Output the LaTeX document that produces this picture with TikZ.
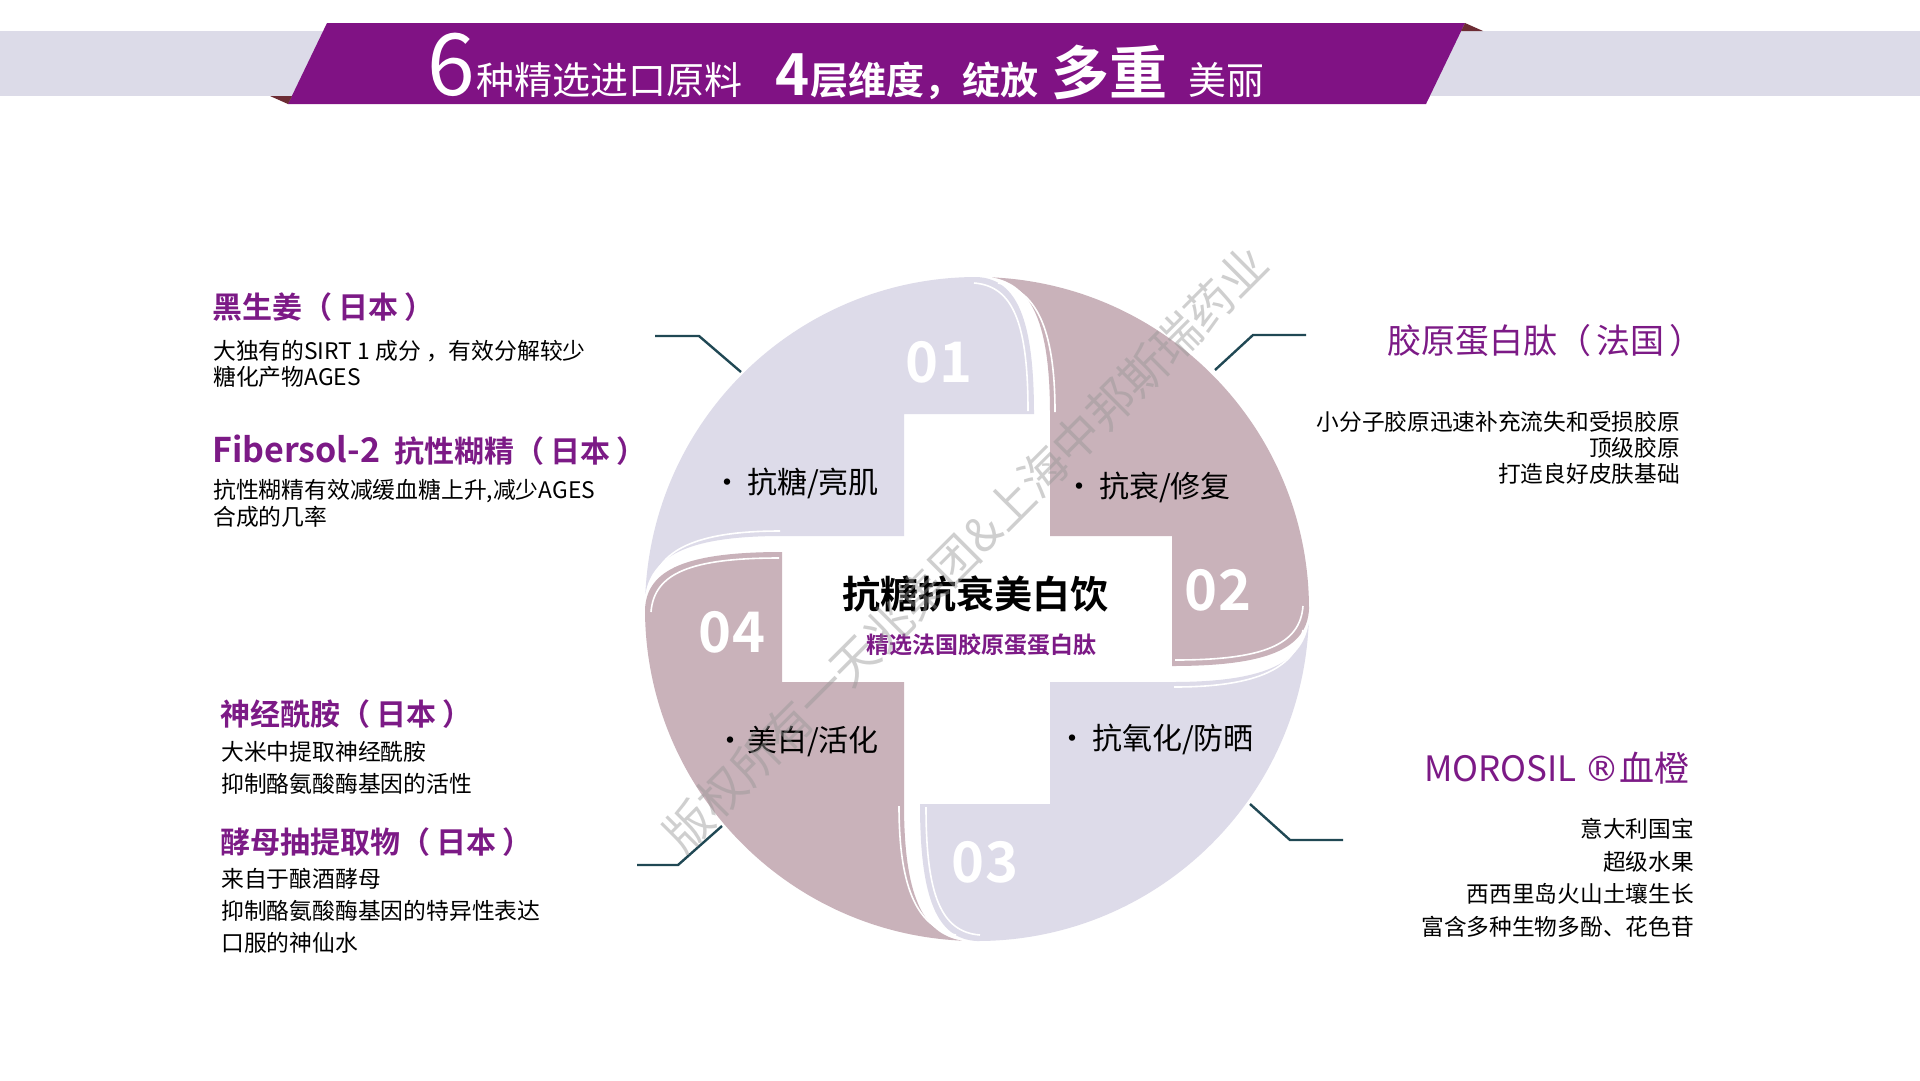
\documentclass[tikz,border=0pt]{standalone}
\usepackage{fontspec}
\setmainfont{Noto Sans CJK SC}[BoldFont={Noto Sans CJK SC Bold}]
\newfontfamily\symfont{DejaVu Sans}
\usetikzlibrary{calc, positioning}

\definecolor{bandgray}{RGB}{220,219,232}
\definecolor{ribbon}{RGB}{128,18,132}
\definecolor{ribbonfold}{RGB}{108,44,52}
\definecolor{lavender}{RGB}{221,219,233}
\definecolor{mauve}{RGB}{201,178,186}
\definecolor{headpurple}{RGB}{124,26,134}
\definecolor{leader}{RGB}{32,72,84}
\definecolor{stampgray}{RGB}{150,150,150}

\newcommand\jp{（\hspace{6pt}日本\hspace{6pt}）}

\tikzset{
  heading/.style={anchor=west, inner sep=0pt, text=headpurple, font=\bfseries\fontsize{30}{30}\selectfont},
  bodytext/.style={anchor=north west, inner sep=0pt, align=left, font=\fontsize{22.8}{#1}\selectfont},
  bodytext/.default=27,
  rightbody/.style={anchor=north east, inner sep=0pt, align=right, font=\fontsize{22.7}{#1}\selectfont},
  rightbody/.default=27,
  titletext/.style={anchor=base west, inner sep=0pt, text=white},
  petaltext/.style={anchor=west, inner sep=0pt, font=\fontsize{30}{30}\selectfont},
  petalnum/.style={inner sep=0pt, text=white, font=\bfseries\fontsize{56}{56}\selectfont},
  leaderline/.style={draw=leader, line width=2.4pt},
  bevel/.style={draw=white, line width=1.6pt},
  stamp/.style={rotate=45, inner sep=0pt, text=stampgray, text opacity=0.45, font=\fontsize{47}{47}\selectfont}
}

\begin{document}
\begin{tikzpicture}[x=1pt,y=-1pt]
\useasboundingbox (0,0) rectangle (1920,1080);
\fill[white] (0,0) rectangle (1920,1080);

\def\petal{(-73,73) -- (-73,195) -- (57,195) .. controls (57,290) and (40,330) .. (90:332)
  arc[start angle=90, end angle=177.4, radius=332] .. controls (-325,55) and (-285,73) .. (-195,73) -- cycle}

\coordinate (tlEnd) at (655,336);
\coordinate (tlBend) at (699,336);
\coordinate (tlRim) at (741,372);
\coordinate (trEnd) at (1306,335);
\coordinate (trBend) at (1253,335);
\coordinate (trRim) at (1215,370);
\coordinate (brEnd) at (1343,840);
\coordinate (brBend) at (1290,840);
\coordinate (brRim) at (1250,804);
\coordinate (blEnd) at (637,865);
\coordinate (blBend) at (678,865);
\coordinate (blRim) at (722,826);

\fill[bandgray] (0,31) rectangle (1920,96);
\fill[ribbon] (327,23) -- (1465,23) -- (1426,104) -- (288,104) -- cycle;
\fill[ribbonfold] (1465,23) -- (1483,31) -- (1461,31) -- cycle;
\fill[ribbonfold] (288,104) -- (270,96) -- (292,96) -- cycle;

\node[titletext, font=\fontsize{86}{86}\selectfont] (title6) at (427,95) {6};
\node[titletext, font=\fontsize{38}{38}\selectfont] (titleA) at (476,94) {种精选进口原料};
\node[titletext, font=\bfseries\fontsize{58}{58}\selectfont] (title4) at (775,95) {4};
\node[titletext, font=\bfseries\fontsize{38}{38}\selectfont] (titleB) at (810,94) {层维度，绽放};
\node[titletext, font=\bfseries\fontsize{58}{58}\selectfont] (titleC) at (1051,94) {多重};
\node[titletext, font=\fontsize{38}{38}\selectfont] (titleD) at (1188,94) {美丽};

\foreach \rot/\tone in {0/lavender,-90/mauve,-180/lavender,-270/mauve}{
  \begin{scope}[shift={(977,609)},x=1pt,y=1pt,rotate=\rot]
    \fill[\tone] \petal;
    \draw[bevel] (51,198) .. controls (51,286) and (36,323) .. (-3,326);
    \draw[bevel] (-326,21) .. controls (-319,58) and (-283,78) .. (-197,78);
  \end{scope}
}

\draw[leaderline] (tlEnd) -- (tlBend) -- (tlRim);
\draw[leaderline] (trEnd) -- (trBend) -- (trRim);
\draw[leaderline] (brEnd) -- (brBend) -- (brRim);
\draw[leaderline] (blEnd) -- (blBend) -- (blRim);

\node[petalnum] (n01) at (939,362) {01};
\node[petalnum] (n02) at (1218,590) {02};
\node[petalnum] (n03) at (985,862) {03};
\node[petalnum] (n04) at (732,632) {04};

\node[petaltext] (sugar) at (712,483) {•\hspace{5pt}抗糖/亮肌};
\node[petaltext] (repair) at (1064,487) {•\hspace{5pt}抗衰/修复};
\node[petaltext] (whiten) at (715,742) {•\hspace{2pt}美白/活化};
\node[petaltext] (sunblock) at (1057,739) {•\hspace{5pt}抗氧化/防晒};

\node[inner sep=0pt, font=\bfseries\fontsize{38}{38}\selectfont] (drink) at (975,594) {抗糖抗衰美白饮};
\node[inner sep=0pt, text=headpurple, font=\bfseries\fontsize{23}{23}\selectfont] (drinkSub) at (981,645) {精选法国胶原蛋蛋白肽};

\node[heading] (ginger) at (212,307) {黑生姜\jp};
\node[bodytext=26.5] (gingerText) at (213,340) {大独有的SIRT 1 成分 ，有效分解较少\\糖化产物AGES};
\node[heading] (fibersol) at (212,450) {{\fontsize{34}{34}\selectfont Fibersol-2}\hspace{14pt}抗性糊精\jp};
\node[bodytext=27] (fibersolText) at (213,479) {抗性糊精有效减缓血糖上升,减少AGES\\合成的几率};
\node[heading] (ceramide) at (220,714) {神经酰胺\jp};
\node[bodytext=32] (ceramideText) at (221,741) {大米中提取神经酰胺\\抑制酪氨酸酶基因的活性};
\node[heading] (yeast) at (220,842) {酵母抽提取物\jp};
\node[bodytext=32] (yeastText) at (221,868) {来自于酿酒酵母\\抑制酪氨酸酶基因的特异性表达\\口服的神仙水};

\node[heading, anchor=east, font=\fontsize{34}{34}\selectfont] (collagen) at (1704,341) {胶原蛋白肽（\hspace{5pt}法国\hspace{5pt}）};
\node[rightbody=26] (collagenText) at (1680,411) {小分子胶原迅速补充流失和受损胶原\\顶级胶原\\打造良好皮肤基础};
\node[heading, anchor=east, font=\fontsize{35}{35}\selectfont] (orange) at (1690,768) {MOROSIL {\symfont ®}血橙};
\node[rightbody=32.7] (orangeText) at (1694,818) {意大利国宝\\超级水果\\西西里岛火山土壤生长\\富含多种生物多酚、花色苷};

\node[stamp] (copyright) at (966,549) {版权所有一天兆集团\&上海中邦斯瑞药业};
\end{tikzpicture}
\end{document}
